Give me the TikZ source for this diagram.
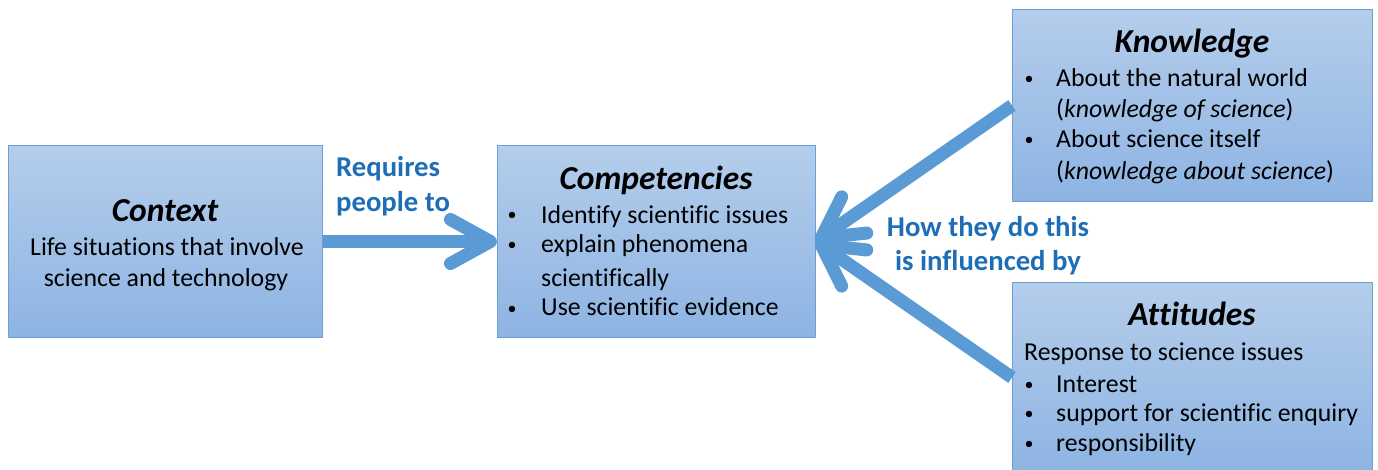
\documentclass[tikz,border=0pt]{standalone}
\usepackage{fontspec}
\setmainfont{Carlito}[Ligatures=NoCommon]
\usetikzlibrary{arrows.meta}
\definecolor{arrowblue}{HTML}{5B9BD5}
\definecolor{boxtop}{HTML}{B4CDEB}
\definecolor{boxbot}{HTML}{8EB4E3}
\definecolor{boxline}{HTML}{6A9FD8}
\definecolor{labelblue}{HTML}{1D6EB6}
\begin{document}
\begin{tikzpicture}[x=1pt,y=-1pt,
  box/.style={rectangle, draw=boxline, line width=1pt, top color=boxtop, bottom color=boxbot, inner sep=0pt, anchor=north west},
  bigarrow/.style={draw=arrowblue, line width=13pt, -{Straight Barb[length=40pt,width=44pt,round]}},
  head/.style={font=\fontsize{33.5}{40}\selectfont\bfseries\itshape, anchor=base, inner sep=0pt},
  body/.style={font=\fontsize{25.8}{31}\selectfont, anchor=base west, inner sep=0pt},
  bodyc/.style={font=\fontsize{25.8}{31}\selectfont, anchor=base, inner sep=0pt},
  bul/.style={font=\fontsize{18}{20}\selectfont, anchor=base, inner sep=0pt},
  lbl/.style={font=\fontsize{28.7}{34}\selectfont\bfseries, text=labelblue, inner sep=0pt}
]
\useasboundingbox (0,0) rectangle (1378,470);
% boxes
\node[box, minimum width=314pt, minimum height=192pt] (ctx) at (8,145) {};
\node[box, minimum width=318pt, minimum height=192pt] (comp) at (497,145) {};
\node[box, minimum width=360pt, minimum height=192pt] (know) at (1012,9) {};
\node[box, minimum width=360pt, minimum height=190pt] (att) at (1012,282) {};
% connectors
\draw[bigarrow] (ctx.east) -- (comp.west);
\draw[bigarrow] (know.west) -- (comp.east);
\draw[bigarrow] (att.west) -- (comp.east);
% context text
\node[head] (ctxh) at (165,221.7) {Context};
\node[bodyc] (ctx1) at (167,255) {Life situations that involve};
\node[bodyc] (ctx2) at (166,287) {science and technology};
% competencies text
\node[head] (comph) at (656,190) {Competencies};
\node[bul] (cb1) at (512,221) {•};
\node[body] (ct1) at (541,223.3) {Identify scientific issues};
\node[bul] (cb2) at (512,251) {•};
\node[body] (ct2) at (541,253) {explain phenomena};
\node[body] (ct3) at (541,286.7) {scientifically};
\node[bul] (cb4) at (512,314) {•};
\node[body] (ct4) at (541,316) {Use scientific evidence};
% knowledge text
\node[head] (knowh) at (1192,53) {Knowledge};
\node[bul] (kb1) at (1029,85) {•};
\node[body] (kt1) at (1056,87) {About the natural world};
\node[body] (kt2) at (1056,118) {(\textit{knowledge of science})};
\node[bul] (kb3) at (1029,146) {•};
\node[body] (kt3) at (1056,148) {About science itself};
\node[body] (kt4) at (1056,180) {(\textit{knowledge about science})};
% attitudes text
\node[head] (atth) at (1192,325) {Attitudes};
\node[body] (at0) at (1024,360) {Response to science issues};
\node[bul] (ab1) at (1029,390) {•};
\node[body] (at1) at (1056,392) {Interest};
\node[bul] (ab2) at (1029,419.7) {•};
\node[body] (at2) at (1056,421.7) {support for scientific enquiry};
\node[bul] (ab3) at (1029,449.7) {•};
\node[body] (at3) at (1056,451.7) {responsibility};
% labels
\node[lbl, anchor=base west] (req1) at (336,176.7) {Requires};
\node[lbl, anchor=base west] (req2) at (336,211.7) {people to};
\node[lbl, anchor=base] (how1) at (988,236.7) {How they do this};
\node[lbl, anchor=base] (how2) at (988,270) {is influenced by};
\end{tikzpicture}
\end{document}
